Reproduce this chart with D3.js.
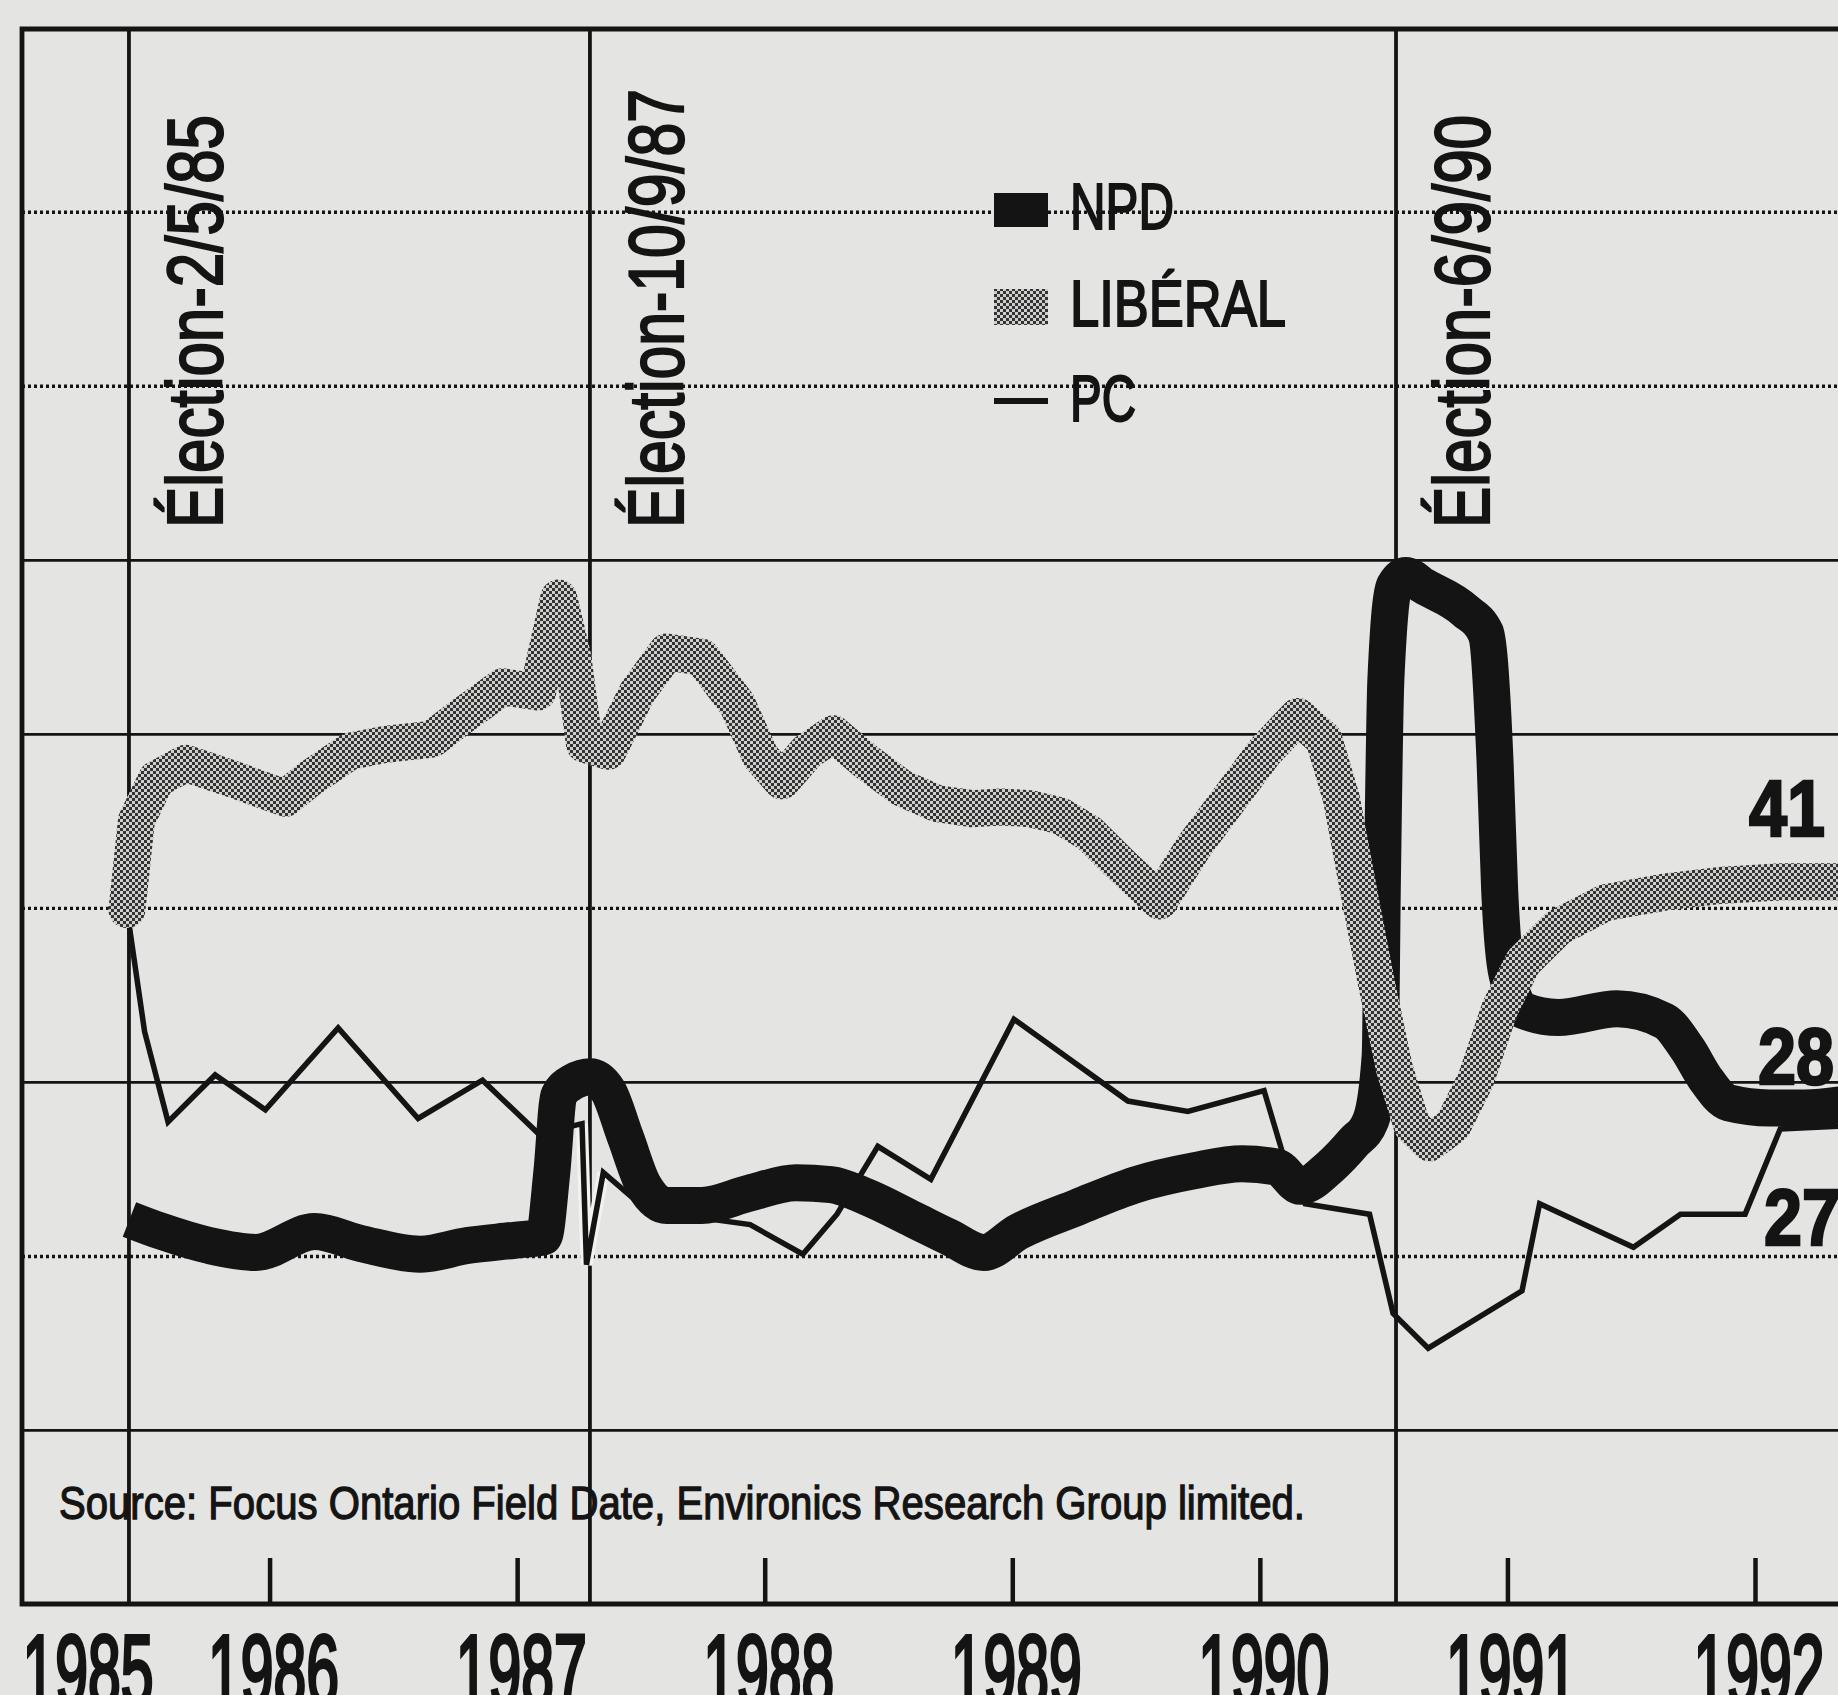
<!DOCTYPE html>
<html>
<head>
<meta charset="utf-8">
<script src="https://cdn.jsdelivr.net/npm/d3@7/dist/d3.min.js"></script>
<style>
  body { margin: 0; background: #e4e4e2; }
  svg { display: block; }
  text { font-family: "Liberation Sans", Arial, sans-serif; fill: #141414; stroke: #141414; }
</style>
</head>
<body>
<div id="chart"></div>
<script>
var width = 1838, height = 1695;

// axis / annotation data
var yearTicks = [1985, 1986, 1987, 1988, 1989, 1990, 1991, 1992];
var gridValues = [10, 20, 30, 40, 50, 60, 70, 80];
var gridDotted = [false, true, false, true, false, false, true, true];
var electionDates = [1985.432, 1987.294, 1990.55];
var electionLabels = ["Élection-2/5/85", "Élection-10/9/87", "Élection-6/9/90"];
var seriesNames = ["NPD", "LIBÉRAL", "PC"];
var endLabels = ["41", "28", "27"];
var sourceText = "Source: Focus Ontario Field Date, Environics Research Group limited.";

// poll values (%), dates as decimal years
var npdDates = [1985.434, 1985.566, 1985.756, 1985.945, 1986.182, 1986.372, 1986.609, 1986.799, 1986.988,
  1987.107, 1987.140, 1987.168, 1987.225, 1987.296, 1987.367, 1987.438, 1987.509, 1987.604, 1987.746, 1987.936,
  1988.126, 1988.268, 1988.410, 1988.599, 1988.742, 1988.884, 1989.026, 1989.263, 1989.500, 1989.737, 1989.927,
  1990.069, 1990.164, 1990.282, 1990.377, 1990.448, 1990.486, 1990.495, 1990.509, 1990.543, 1990.590, 1990.661,
  1990.827, 1990.912, 1990.950, 1990.969, 1990.998, 1991.064, 1991.206, 1991.443, 1991.633, 1991.727, 1991.799,
  1991.893, 1992.059, 1992.201, 1992.40];
var npdValues = [22.1, 21.4, 20.6, 20.2, 21.4, 20.7, 20.1, 20.6, 20.9,
  21.1, 24.8, 29.2, 30.0, 30.3, 29.5, 26.8, 24.1, 22.9, 22.9, 23.6,
  24.2, 24.1, 23.4, 22.1, 21.1, 20.2, 21.4, 22.8, 24.1, 24.9, 25.3,
  25.1, 24.0, 25.1, 26.5, 27.8, 31.5, 41.6, 53.1, 58.5, 59.1, 58.5,
  57.1, 55.8, 48.4, 40.9, 36.2, 34.1, 33.7, 34.2, 33.5, 31.9, 30.2,
  28.8, 28.5, 28.5, 28.8];

var libDates = [1985.424, 1985.462, 1985.543, 1985.661, 1985.851, 1986.064, 1986.159, 1986.325, 1986.467,
  1986.656, 1986.775, 1986.941, 1987.083, 1987.168, 1987.225, 1987.272, 1987.367, 1987.486, 1987.604, 1987.746,
  1987.889, 1987.983, 1988.069, 1988.173, 1988.277, 1988.410, 1988.552, 1988.694, 1988.836, 1988.955, 1989.073,
  1989.192, 1989.310, 1989.452, 1989.595, 1989.737, 1989.879, 1990.021, 1990.154, 1990.258, 1990.329, 1990.400,
  1990.472, 1990.543, 1990.614, 1990.685, 1990.780, 1990.874, 1990.969, 1991.064, 1991.206, 1991.396, 1991.633,
  1991.870, 1992.107, 1992.40];
var libValues = [39.9, 45.0, 47.4, 48.3, 47.4, 46.3, 47.4, 49.0, 49.4,
  49.7, 51.0, 52.7, 52.4, 57.8, 54.4, 49.4, 49.0, 52.4, 54.7, 54.4,
  51.7, 48.7, 47.3, 49.0, 50.0, 48.4, 46.9, 46.0, 45.7, 45.8, 45.7,
  45.3, 44.3, 42.3, 40.4, 43.6, 46.3, 49.0, 51.0, 49.7, 46.3, 40.9,
  35.6, 30.8, 27.5, 26.5, 27.5, 30.2, 34.2, 36.9, 38.9, 40.3, 40.9,
  41.3, 41.5, 41.5];

var pcDates = [1985.434, 1985.495, 1985.590, 1985.780, 1985.983, 1986.277, 1986.600, 1986.860, 1987.088,
  1987.262, 1987.280, 1987.348, 1987.462, 1987.633, 1987.941, 1988.154, 1988.292, 1988.457, 1988.671, 1989.007,
  1989.467, 1989.709, 1990.017, 1990.088, 1990.183, 1990.443, 1990.538, 1990.680, 1991.059, 1991.130,
  1991.509, 1991.699, 1991.960, 1992.102, 1992.40];
var pcValues = [38.9, 32.9, 27.7, 30.4, 28.4, 33.1, 27.9, 30.1, 27.0,
  27.6, 19.5, 24.8, 23.4, 22.4, 21.8, 20.1, 22.4, 26.3, 24.4, 33.6,
  28.9, 28.3, 29.5, 26.1, 23.0, 22.4, 16.7, 14.7, 18.0, 23.0,
  20.5, 22.4, 22.4, 27.3, 27.5];

var ink = "#141414", paper = "#e4e4e2";

function zip(dates, values) {
  return dates.map(function(d, i) { return {date: d, value: values[i]}; });
}

// condensed newspaper type: squeeze the glyphs to a given width
function squeeze(sel, w) {
  return sel.attr("textLength", w).attr("lengthAdjust", "spacingAndGlyphs");
}

function chart() {
  var svg = d3.select("#chart").append("svg")
      .attr("width", width)
      .attr("height", height);

  var x = d3.scaleLinear().domain([1985, 1992]).range([22, 1755]);
  var y = d3.scaleLinear().domain([0, 90.5]).range([1604, 29]);

  var defs = svg.append("defs");
  var pat = defs.append("pattern")
      .attr("id", "halftone")
      .attr("patternUnits", "userSpaceOnUse")
      .attr("width", 6).attr("height", 6);
  pat.append("rect").attr("width", 6).attr("height", 6).attr("fill", "#cfcfcd");
  pat.append("rect").attr("width", 3).attr("height", 3).attr("fill", "#333");
  pat.append("rect").attr("x", 3).attr("y", 3).attr("width", 3).attr("height", 3).attr("fill", "#333");

  svg.append("rect")
      .attr("width", width).attr("height", height)
      .attr("fill", paper);

  // horizontal grid
  var grid = svg.append("g")
      .attr("transform", "translate(" + x(1985) + ",0)")
      .call(d3.axisLeft(y).tickValues(gridValues).tickSize(-(width - x(1985))).tickFormat(""));
  grid.select(".domain").remove();
  grid.selectAll(".tick line")
      .attr("stroke", ink)
      .attr("stroke-width", function(d, i) { return gridDotted[i] ? 3.4 : 2.8; })
      .attr("stroke-dasharray", function(d, i) { return gridDotted[i] ? "3,3" : null; });

  // election lines
  svg.selectAll(".election")
      .data(electionDates)
    .enter().append("line")
      .attr("class", "election")
      .attr("x1", function(d) { return x(d); })
      .attr("x2", function(d) { return x(d); })
      .attr("y1", y(90.5))
      .attr("y2", y(0))
      .attr("stroke", ink)
      .attr("stroke-width", 3.8);

  // year ticks on the bottom axis
  var xa = svg.append("g")
      .attr("transform", "translate(0," + y(0) + ")")
      .call(d3.axisBottom(x).tickValues(yearTicks.slice(1)).tickSize(-46).tickFormat(""));
  xa.select(".domain").remove();
  xa.selectAll(".tick line").attr("stroke", ink).attr("stroke-width", 4.5);

  // frame
  svg.append("path")
      .attr("d", "M" + width + "," + y(90.5) + "H" + x(1985) + "V" + y(0) + "H" + width)
      .attr("fill", "none")
      .attr("stroke", ink)
      .attr("stroke-width", 4.8);

  // source
  squeeze(svg.append("text")
      .attr("x", 59)
      .attr("y", 1519)
      .style("font-size", "47px")
      .style("stroke-width", "1.3px")
      .text(sourceText), 1246);

  // election labels
  var elLen = [413, 439, 413];
  electionDates.forEach(function(d, i) {
    squeeze(svg.append("text")
        .attr("transform", "translate(" + (x(d) + 93) + ",528) rotate(-90)")
        .style("font-size", "78px")
        .style("stroke-width", "2.2px")
        .text(electionLabels[i]), elLen[i]);
  });

  // series
  var smoothLine = d3.line()
      .x(function(d) { return x(d.date); })
      .y(function(d) { return y(d.value); })
      .curve(d3.curveMonotoneX);
  var flatLine = d3.line()
      .x(function(d) { return x(d.date); })
      .y(function(d) { return y(d.value); });

  svg.append("path")
      .datum(zip(npdDates, npdValues))
      .attr("d", smoothLine)
      .attr("fill", "none")
      .attr("stroke", ink)
      .attr("stroke-width", 37)
      .attr("stroke-linecap", "butt")
      .attr("stroke-linejoin", "round");

  var pc = zip(pcDates, pcValues);
  // the PC dip at the 1987 election shows as a white-edged line through the NPD band
  svg.append("path")
      .datum(pc.slice(9, 12))
      .attr("d", flatLine)
      .attr("fill", "none")
      .attr("stroke", "#f2f2f0")
      .attr("stroke-width", 12);
  svg.append("path")
      .datum(pc)
      .attr("d", flatLine)
      .attr("fill", "none")
      .attr("stroke", ink)
      .attr("stroke-width", 5.5)
      .attr("stroke-linejoin", "miter");

  svg.append("path")
      .datum(zip(libDates, libValues))
      .attr("d", flatLine)
      .attr("fill", "none")
      .attr("stroke", "url(#halftone)")
      .attr("stroke-width", 37)
      .attr("stroke-linecap", "round")
      .attr("stroke-linejoin", "round");

  // legend
  var leg = svg.append("g").attr("transform", "translate(994,0)");
  leg.append("rect").attr("x", 0).attr("y", 193).attr("width", 54).attr("height", 34).attr("fill", ink);
  leg.append("rect").attr("x", 0).attr("y", 289).attr("width", 54).attr("height", 36).attr("fill", "url(#halftone)");
  leg.append("line").attr("x1", 0).attr("x2", 54).attr("y1", 401).attr("y2", 401)
      .attr("stroke", ink).attr("stroke-width", 6);
  var legBase = [229, 326, 421], legLen = [104, 216, 66];
  seriesNames.forEach(function(n, i) {
    squeeze(leg.append("text")
        .attr("x", 76)
        .attr("y", legBase[i])
        .style("font-size", "64px")
        .style("stroke-width", "2px")
        .text(n), legLen[i]);
  });

  // end values
  var lastVals = [libValues[libValues.length - 1], npdValues[npdValues.length - 1], pcValues[pcValues.length - 1]];
  var endOff = [-46, -19, 120], endX = [1749, 1758, 1764];
  endLabels.forEach(function(t, i) {
    squeeze(svg.append("text")
        .attr("x", endX[i])
        .attr("y", y(lastVals[i]) + endOff[i])
        .style("font-size", "80px")
        .style("font-weight", "bold")
        .style("stroke-width", "2.5px")
        .text(t), 76);
  });

  // year labels
  yearTicks.forEach(function(t, i) {
    var cx = i == 0 ? x(t) + 66 : x(t) + 4;
    squeeze(svg.append("text")
        .attr("x", cx)
        .attr("y", 1705)
        .attr("text-anchor", "middle")
        .style("font-size", "100px")
        .style("stroke-width", "4px")
        .text(t), 131);
  });
}

chart();
</script>
</body>
</html>
